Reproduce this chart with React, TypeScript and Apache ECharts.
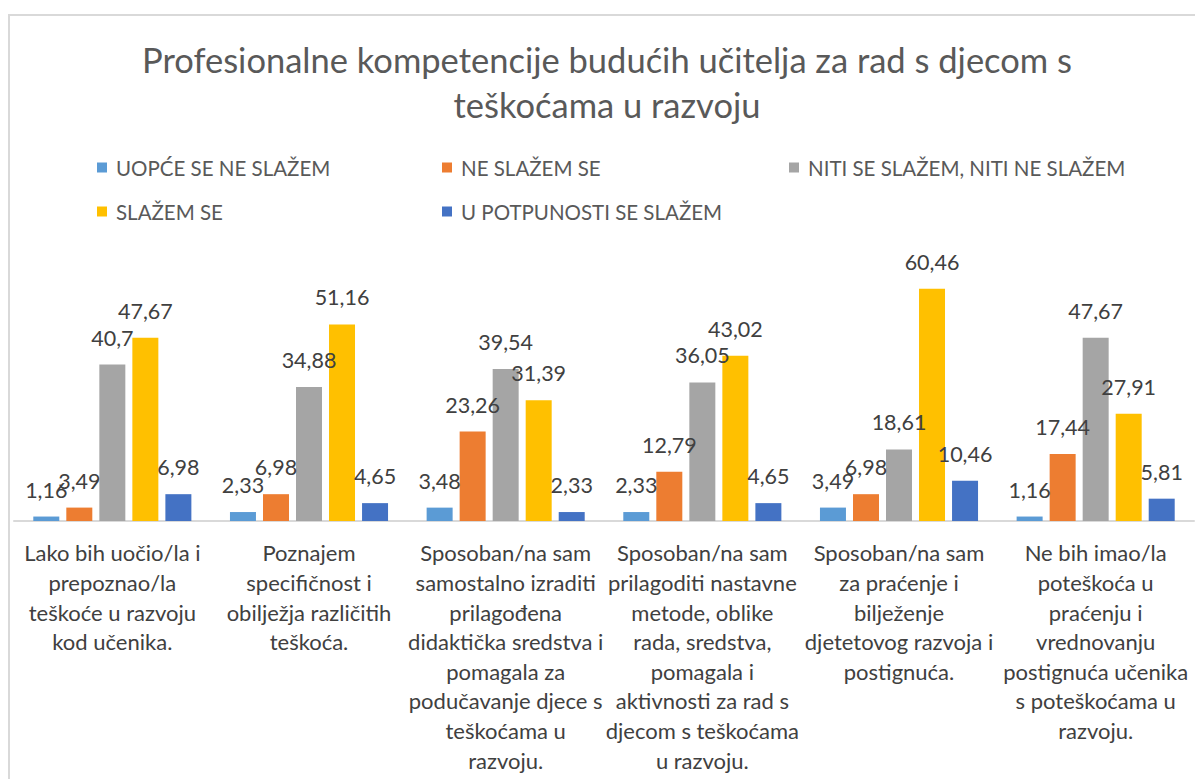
import React, { useEffect, useRef } from "react";
import * as echarts from "echarts";

const categories = [
  "Lako bih uočio/la i\nprepoznao/la\nteškoće u razvoju\nkod učenika.",
  "Poznajem\nspecifičnost i\nobilježja različitih\nteškoća.",
  "Sposoban/na sam\nsamostalno izraditi\nprilagođena\ndidaktička sredstva i\npomagala za\npodučavanje djece s\nteškoćama u\nrazvoju.",
  "Sposoban/na sam\nprilagoditi nastavne\nmetode, oblike\nrada, sredstva,\npomagala i\naktivnosti za rad s\ndjecom s teškoćama\nu razvoju.",
  "Sposoban/na sam\nza praćenje i\nbilježenje\ndjetetovog razvoja i\npostignuća.",
  "Ne bih imao/la\npoteškoća u\npraćenju i\nvrednovanju\npostignuća učenika\ns poteškoćama u\nrazvoju.",
];

const seriesNames = [
  "UOPĆE SE NE SLAŽEM",
  "NE SLAŽEM SE",
  "NITI SE SLAŽEM, NITI NE SLAŽEM",
  "SLAŽEM SE",
  "U POTPUNOSTI SE SLAŽEM",
];

const uopceSeNeSlazem = [1.16, 2.33, 3.48, 2.33, 3.49, 1.16];
const neSlazemSe = [3.49, 6.98, 23.26, 12.79, 6.98, 17.44];
const nitiNiti = [40.7, 34.88, 39.54, 36.05, 18.61, 47.67];
const slazemSe = [47.67, 51.16, 31.39, 43.02, 60.46, 27.91];
const uPotpunosti = [6.98, 4.65, 2.33, 4.65, 10.46, 5.81];

const seriesValues = [uopceSeNeSlazem, neSlazemSe, nitiNiti, slazemSe, uPotpunosti];
const colors = ["#5B9BD5", "#ED7D31", "#A5A5A5", "#FFC000", "#4472C4"];

const titleText = "Profesionalne kompetencije budućih učitelja za rad s djecom s\nteškoćama u razvoju";

const FONT = "Lato, 'Open Sans', sans-serif";

export default function App() {
  const ref = useRef<HTMLDivElement>(null);

  useEffect(() => {
    if (!ref.current) return;
    const chart = echarts.init(ref.current, null, { renderer: "svg" });

    const legendPos = [
      { left: 97, top: 157 },
      { left: 442, top: 157 },
      { left: 789, top: 157 },
      { left: 97, top: 201 },
      { left: 442, top: 201 },
    ];

    chart.setOption({
      animation: false,
      backgroundColor: "#ffffff",
      title: {
        text: titleText,
        left: 607,
        top: 37,
        textAlign: "center",
        padding: 0,
        textStyle: {
          fontFamily: FONT,
          fontSize: 34.5,
          fontWeight: "normal",
          color: "#595959",
          lineHeight: 45,
        },
      },
      legend: seriesNames.map((name, i) => ({
        data: [name],
        left: legendPos[i].left,
        top: legendPos[i].top,
        padding: 0,
        icon: "rect",
        itemWidth: 10,
        itemHeight: 10,
        itemGap: 5,
        selectedMode: false,
        textStyle: {
          fontFamily: FONT,
          fontSize: 20.5,
          color: "#595959",
          padding: [0, 0, 0, 4],
        },
      })),
      graphic: [
        {
          type: "rect",
          shape: { x: 9, y: 15, width: 1200, height: 800 },
          style: { fill: "none", stroke: "#d9d9d9", lineWidth: 2 },
          silent: true,
        },
      ],
      grid: { left: 14, right: 1, top: 252, bottom: 258, containLabel: false },
      xAxis: {
        type: "category",
        data: categories,
        axisLine: { lineStyle: { color: "#d9d9d9", width: 2 } },
        axisTick: { show: false },
        axisLabel: {
          interval: 0,
          margin: 17,
          fontFamily: FONT,
          fontSize: 22,
          lineHeight: 29.6,
          color: "#404040",
          align: "center",
        },
      },
      yAxis: {
        type: "value",
        min: 0,
        max: 70,
        show: false,
        splitLine: { show: false },
      },
      series: seriesNames.map((name, i) => ({
        name,
        type: "bar",
        data: seriesValues[i],
        barWidth: 26,
        barGap: "27%",
        itemStyle: { color: colors[i] },
        label: {
          show: true,
          position: "top",
          distance: 16,
          fontFamily: FONT,
          fontSize: 21.5,
          color: "#404040",
          formatter: (p: any) => String(p.value).replace(".", ","),
        },
      })),
    });

    return () => chart.dispose();
  }, []);

  return (
    <div
      ref={ref}
      style={{ position: "absolute", left: 0, top: 0, width: 1195, height: 779 }}
    />
  );
}
